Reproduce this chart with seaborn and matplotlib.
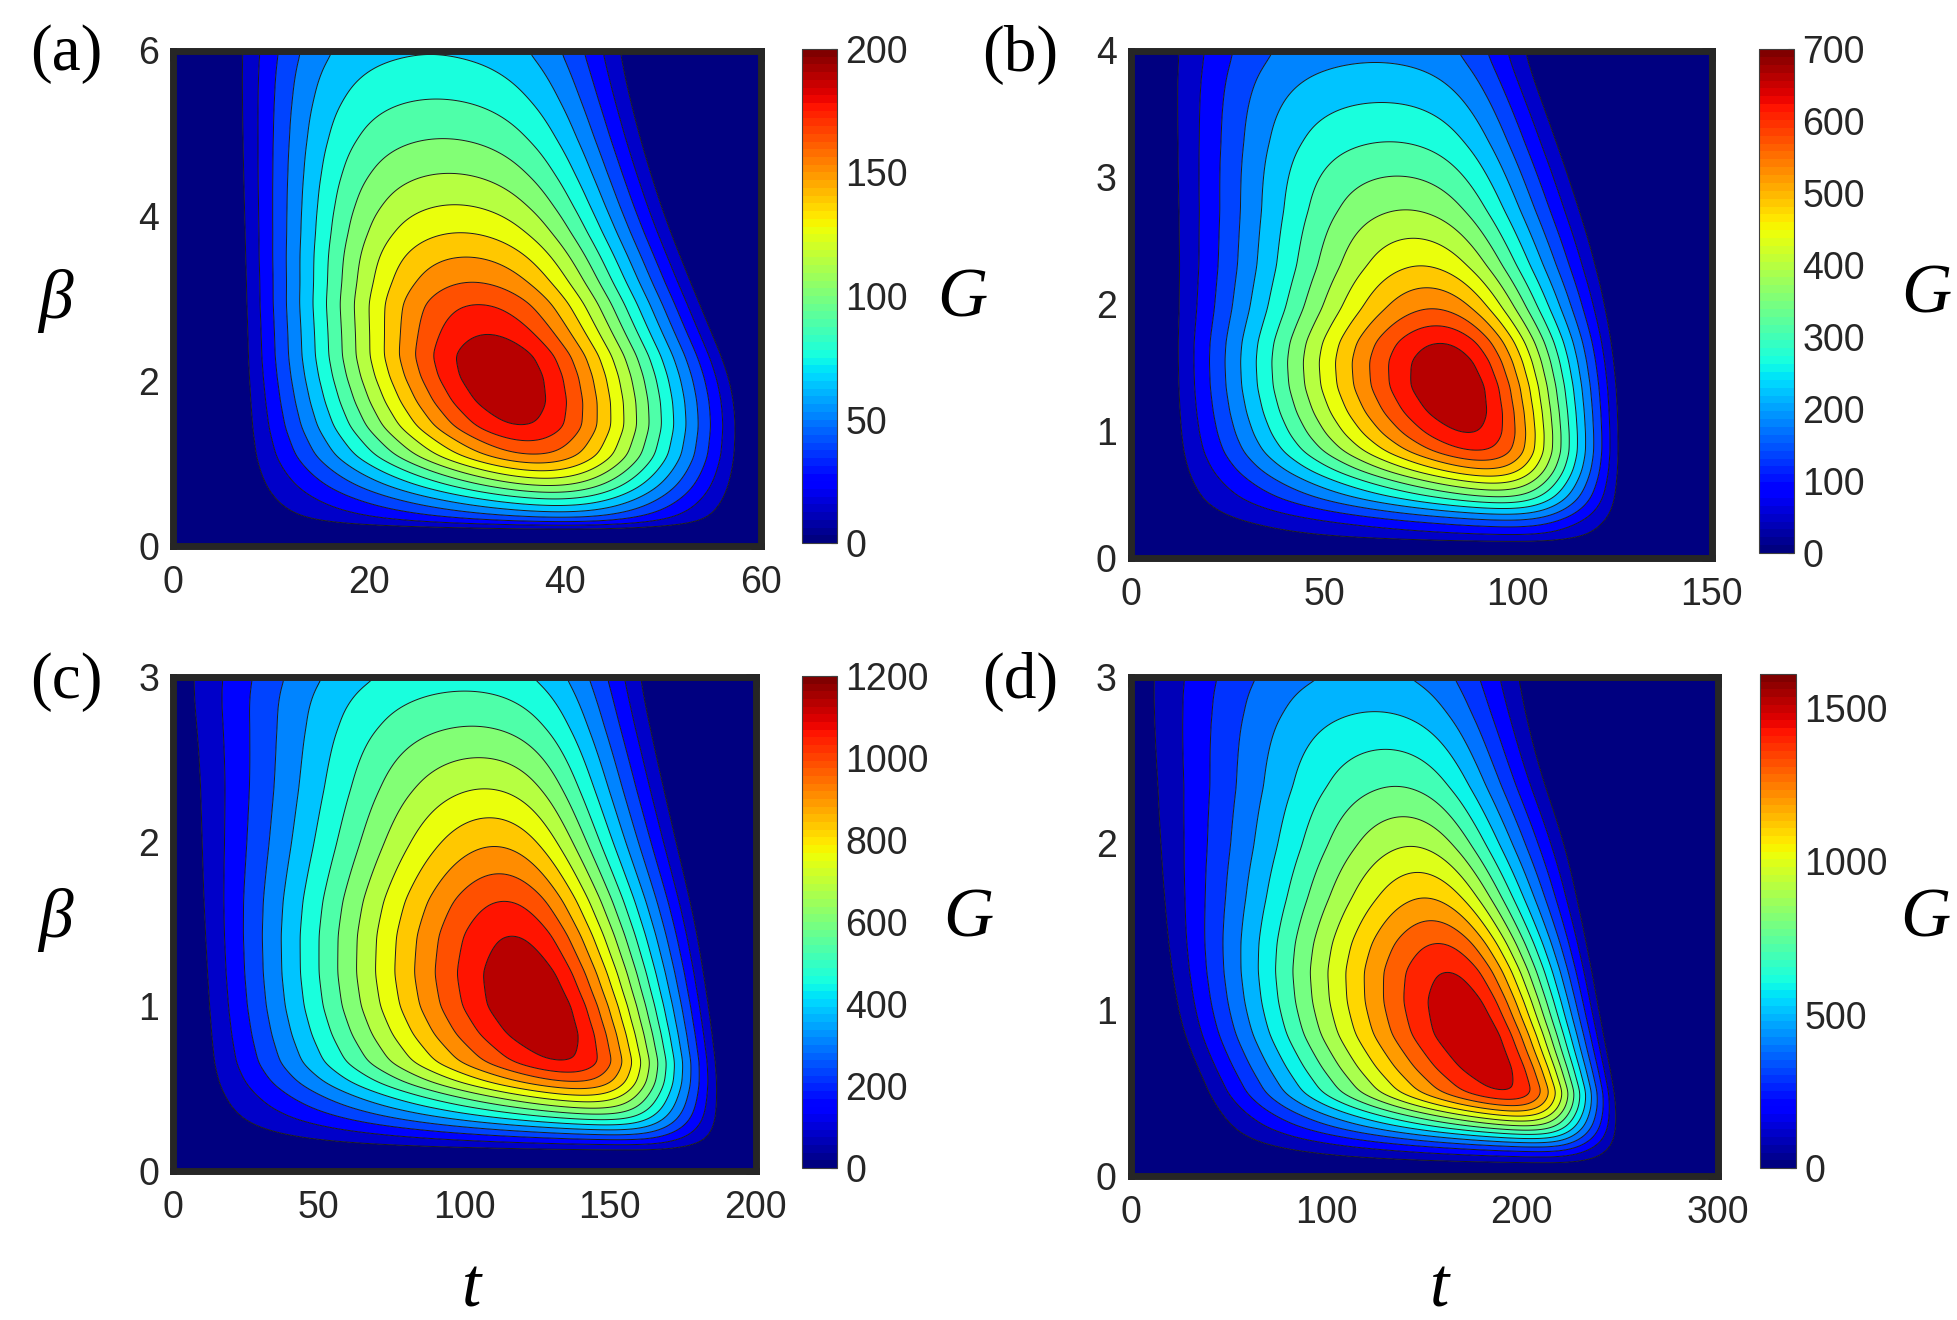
import numpy as np
import matplotlib
matplotlib.use("Agg")
import matplotlib.pyplot as plt
from matplotlib.colors import Normalize
from matplotlib.cm import ScalarMappable
import seaborn as sns

W, H = 1957, 1320

# ridge: maximum of G along t for each beta
# edges, per beta: start t0, peak tp, end te of G(t), plateau width and corner sharpness
# ---- panel (a): t in [0, 60], beta in [0, 6], G up to 200 ----
A_T_MAX, A_B_MAX, A_G_MAX, A_STEP = 60, 6, 200, 12.5
A_RIDGE_BETA = [0, 0.18, 0.22, 0.28, 0.41, 0.57, 0.73, 0.91, 1.10, 1.45, 1.75, 2.05, 2.30, 2.56, 2.93, 3.19, 3.50, 3.79, 4.13, 4.51, 4.93, 5.41, 5.94, 6.0]
A_RIDGE_G = [0, 0, 12.5, 37.5, 62.5, 87.5, 112.5, 137.5, 162.5, 187.5, 196, 199, 197, 187.5, 175, 162.5, 150, 137.5, 125, 112.5, 100, 87.5, 75, 74]
A_EDGE_BETA = [0, 0.5, 1.0, 1.5, 2.0, 2.5, 3.0, 4.0, 5.0, 6.0]
A_T0 = [6.5, 6.5, 6.5, 6.5, 6.4, 6.3, 6.2, 5.9, 5.6, 5.4]
A_TP = [42, 41, 38, 36, 34, 32.5, 31, 29, 27.5, 26]
A_TE = [57, 58.5, 58.6, 58.8, 58.4, 56.5, 54.8, 51.5, 49, 47.2]
A_FLAT = [0.85, 0.85, 0.85, 0.85, 0.88, 0.97, 1.1, 1.35, 1.6, 1.85]
A_SHARP = [5, 5, 5, 5, 4.8, 4.5, 4.2, 3.5, 3, 2.6]

# ---- panel (b): t in [0, 150], beta in [0, 4], G up to 700 ----
B_T_MAX, B_B_MAX, B_G_MAX, B_STEP = 150, 4, 700, 43.75
B_RIDGE_BETA = [0, 0.09, 0.13, 0.18, 0.25, 0.30, 0.39, 0.48, 0.59, 0.70, 0.84, 0.98, 1.15, 1.35, 1.55, 1.70, 1.96, 2.30, 2.74, 3.28, 3.90, 4.0]
B_RIDGE_G = [0, 0, 43.75, 87.5, 131, 175, 262.5, 350, 437.5, 525, 612.5, 656, 685, 699, 685, 656, 569, 481, 394, 306, 219, 208]
B_EDGE_BETA = [0, 0.5, 1.0, 1.35, 2.0, 2.5, 3.0, 3.5, 4.0]
B_T0 = [9, 9, 8.5, 8.5, 8.0, 7.5, 7.0, 6.6, 6.0]
B_TP = [105, 100, 90, 85, 80, 75, 70.5, 67, 64.5]
B_TE = [128, 128, 128, 127.8, 125.5, 122, 117, 111.5, 105.5]
B_FLAT = [0.85, 0.85, 0.85, 0.85, 0.9, 1.05, 1.3, 1.55, 1.8]
B_SHARP = [5, 5, 5, 5, 4.8, 4.4, 4, 3.5, 3]

# ---- panel (c): t in [0, 200], beta in [0, 3], G up to 1200 ----
C_T_MAX, C_B_MAX, C_G_MAX, C_STEP = 200, 3, 1200, 75
C_RIDGE_BETA = [0, 0.10, 0.13, 0.19, 0.25, 0.31, 0.38, 0.46, 0.54, 0.66, 0.83, 1.0, 1.2, 1.43, 1.64, 1.97, 2.32, 2.70, 3.0]
C_RIDGE_G = [0, 0, 75, 225, 375, 525, 675, 825, 975, 1125, 1180, 1199, 1180, 1125, 1050, 900, 750, 600, 495]
C_EDGE_BETA = [0, 0.5, 1.0, 1.5, 2.0, 2.5, 3.0]
C_T0 = [7, 7, 6.2, 4.5, 2.3, 0.5, -2.9]
C_TP = [170, 145, 128, 119, 114, 110, 104]
C_TE = [191, 190, 187, 183, 177, 171, 165.5]
C_FLAT = [0.85, 0.85, 0.85, 0.85, 0.92, 1.15, 1.45]
C_SHARP = [5, 5, 5, 5, 4.8, 4, 3]

# ---- panel (d): t in [0, 300], beta in [0, 3], G up to ~1610 ----
D_T_MAX, D_B_MAX, D_G_MAX, D_STEP = 300, 3, 1610, 100
D_RIDGE_BETA = [0, 0.05, 0.08, 0.15, 0.20, 0.25, 0.30, 0.36, 0.42, 0.50, 0.65, 0.85, 1.05, 1.23, 1.40, 1.67, 1.98, 2.34, 2.79, 3.0]
D_RIDGE_G = [0, 0, 100, 300, 500, 700, 900, 1100, 1300, 1500, 1560, 1590, 1560, 1500, 1400, 1200, 1000, 800, 600, 520]
D_EDGE_BETA = [0, 0.4, 0.85, 1.5, 2.0, 2.5, 3.0]
D_T0 = [40, 35, 17.8, 9, 3.5, -0.5, -3.4]
D_TP = [225, 205, 180, 160, 148, 138, 125]
D_TE = [253, 252, 245, 236, 228.6, 215, 207]
D_FLAT = [0.85, 0.85, 0.85, 0.85, 0.92, 1.15, 1.4]
D_SHARP = [5, 5, 5, 5, 4.8, 4, 3]

PANELS = [
    dict(tag="(a)", t_max=A_T_MAX, b_max=A_B_MAX, g_max=A_G_MAX, step=A_STEP,
         rb=A_RIDGE_BETA, rg=A_RIDGE_G, eb=A_EDGE_BETA, t0=A_T0, tp=A_TP, te=A_TE, f=A_FLAT, n=A_SHARP,
         xticks=[0, 20, 40, 60], yticks=[0, 2, 4, 6], cticks=[0, 50, 100, 150, 200],
         ax=(173, 50.5, 760.5, 546), cax=(802, 49, 837, 543),
         tag_xy=(66, 54), beta_xy=(55, 301), g_xy=(962, 300), t_xy=None),
    dict(tag="(b)", t_max=B_T_MAX, b_max=B_B_MAX, g_max=B_G_MAX, step=B_STEP,
         rb=B_RIDGE_BETA, rg=B_RIDGE_G, eb=B_EDGE_BETA, t0=B_T0, tp=B_TP, te=B_TE, f=B_FLAT, n=B_SHARP,
         xticks=[0, 50, 100, 150], yticks=[0, 1, 2, 3, 4], cticks=list(range(0, 701, 100)),
         ax=(1130.5, 50.5, 1711.5, 558), cax=(1759, 49, 1794, 553),
         tag_xy=(1020, 55), beta_xy=None, g_xy=(1926, 296), t_xy=None),
    dict(tag="(c)", t_max=C_T_MAX, b_max=C_B_MAX, g_max=C_G_MAX, step=C_STEP,
         rb=C_RIDGE_BETA, rg=C_RIDGE_G, eb=C_EDGE_BETA, t0=C_T0, tp=C_TP, te=C_TE, f=C_FLAT, n=C_SHARP,
         xticks=[0, 50, 100, 150, 200], yticks=[0, 1, 2, 3], cticks=list(range(0, 1201, 200)),
         ax=(173, 677, 755.5, 1171), cax=(802, 676, 837, 1168),
         tag_xy=(66, 682), beta_xy=(55, 920), g_xy=(968, 920), t_xy=(472, 1290)),
    dict(tag="(d)", t_max=D_T_MAX, b_max=D_B_MAX, g_max=D_G_MAX, step=D_STEP,
         rb=D_RIDGE_BETA, rg=D_RIDGE_G, eb=D_EDGE_BETA, t0=D_T0, tp=D_TP, te=D_TE, f=D_FLAT, n=D_SHARP,
         xticks=[0, 100, 200, 300], yticks=[0, 1, 2, 3], cticks=[0, 500, 1000, 1500],
         ax=(1130.5, 677, 1717.5, 1176), cax=(1760, 674, 1796, 1168),
         tag_xy=(1020, 682), beta_xy=None, g_xy=(1925, 920), t_xy=(1440, 1290)),
]


def smooth(y, sigma_pts):
    # gaussian smoothing of a sampled curve, edges held
    k = np.arange(-int(3 * sigma_pts), int(3 * sigma_pts) + 1)
    w = np.exp(-0.5 * (k / sigma_pts) ** 2)
    w /= w.sum()
    yp = np.pad(y, len(k) // 2, mode="edge")
    return np.convolve(yp, w, mode="valid")


def build_field(p):
    t = np.linspace(0, p["t_max"], 600)
    b = np.linspace(0, p["b_max"], 450)
    T, B = np.meshgrid(t, b)
    prm = {}
    for key in ("t0", "tp", "te", "f", "n"):
        prm[key] = smooth(np.interp(b, p["eb"], p[key]), 24)[:, None]
    ridge = np.clip(smooth(np.interp(b, p["rb"], p["rg"]), 4), 0, None)[:, None]
    n = prm["n"]
    rise = (prm["tp"] - prm["t0"]) / prm["f"]
    fall = (prm["te"] - prm["tp"]) / prm["f"]
    up = np.clip((T - prm["t0"]) / rise, 1e-6, None)
    down = np.clip((prm["te"] - T) / fall, 1e-6, None)
    g = (up ** -n + down ** -n + 1.0) ** (-1.0 / n)
    g = g / g.max(axis=1, keepdims=True) * ridge
    return T, B, g


def fig_rect(x0, y0, x1, y1):
    return [x0 / W, 1 - y1 / H, (x1 - x0) / W, (y1 - y0) / H]


sns.set_theme(style="white")
plt.rcParams["font.family"] = ["Liberation Sans", "DejaVu Sans"]
jet64 = plt.get_cmap("jet", 64)
FRAME = "#262626"
SERIF = ["Liberation Serif", "DejaVu Serif"]

fig = plt.figure(figsize=(W / 100, H / 100), dpi=100)
for p in PANELS:
    T, B, G = build_field(p)
    ax = fig.add_axes(fig_rect(*p["ax"]))
    inner = list(np.arange(p["step"], p["g_max"] - 1e-6, p["step"]))
    levels = [-1.0] + inner + [p["g_max"] * 1.05]
    norm = Normalize(0, p["g_max"])
    fills = [jet64(norm(max(lv, 0))) for lv in levels[:-1]]
    ax.contourf(T, B, G, levels=levels, colors=fills, antialiased=True)
    ax.contour(T, B, G, levels=inner, colors="k", linewidths=0.7)
    ax.set_xlim(0, p["t_max"])
    ax.set_ylim(0, p["b_max"])
    ax.set_xticks(p["xticks"])
    ax.set_yticks(p["yticks"])
    for s in ax.spines.values():
        s.set_linewidth(5)
        s.set_color(FRAME)
    ax.tick_params(direction="in", length=7.5, width=5, color=FRAME, top=True, right=True,
                   labelsize=27, labelcolor=FRAME)
    ax.tick_params(axis="x", pad=13.5)
    ax.tick_params(axis="y", pad=10)

    cax = fig.add_axes(fig_rect(*p["cax"]))
    cb = fig.colorbar(ScalarMappable(norm=norm, cmap=jet64), cax=cax, ticks=p["cticks"])
    cb.outline.set_linewidth(0.8)
    cb.outline.set_edgecolor("#404040")
    cax.tick_params(direction="in", length=4, width=0.8, color=FRAME, labelsize=27,
                    labelcolor=FRAME, pad=6)

    fig.text(p["tag_xy"][0] / W, 1 - p["tag_xy"][1] / H, p["tag"], family=SERIF,
             fontsize=47, ha="center", va="center", color="black")
    fig.text(p["g_xy"][0] / W, 1 - p["g_xy"][1] / H, "G", family=SERIF, style="italic",
             fontsize=50, ha="center", va="center", color="black")
    if p["beta_xy"]:
        fig.text(p["beta_xy"][0] / W, 1 - p["beta_xy"][1] / H, "β", family=SERIF, style="italic",
                 fontsize=50, ha="center", va="center", color="black")
    if p["t_xy"]:
        fig.text(p["t_xy"][0] / W, 1 - p["t_xy"][1] / H, "t", family=SERIF, style="italic",
                 fontsize=50, ha="center", va="center", color="black")

plt.savefig("out.png", dpi=100)
plt.close()
print("Saved out.png")
